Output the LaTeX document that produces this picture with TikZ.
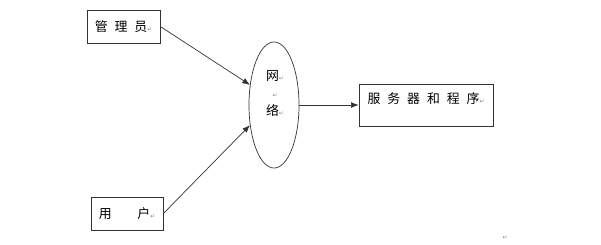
\documentclass[tikz,border=0pt]{standalone}
\usepackage{fontspec}
\newfontfamily\cjk[WordSpace=2.4]{Noto Sans CJK SC}
\newfontfamily\symfont{DejaVu Sans}
\newcommand{\retmark}{{\symfont\fontsize{5pt}{5pt}\selectfont\color{gray}\char"21B5}}
\tikzset{
  box/.style={draw=black!80, line width=0.6pt, inner sep=0pt, font=\cjk\fontsize{11pt}{12pt}\selectfont},
  netshape/.style={draw=black!80, line width=0.6pt, ellipse, minimum width=42.7pt, minimum height=107.6pt, inner sep=0pt},
}
\usetikzlibrary{shapes.geometric,arrows.meta}
\begin{document}
\begin{tikzpicture}[>={Latex[length=6.5pt,width=5pt]}, x=0.03cm, y=-0.03cm]
\useasboundingbox (0,0) rectangle (601,244);
\node[box, minimum width=62.3pt, minimum height=28.2pt] (admin) at (123.5,26.5) {管 理 员\retmark};
\node[box, minimum width=61.5pt, minimum height=28.2pt] (user) at (127,213.5) {用\hspace{22pt}户\retmark};
\node[box, minimum width=114.4pt, minimum height=35.9pt, text height=9pt, text depth=12pt] (server) at (426,105) {服 务 器 和 程 序\retmark};
\node[netshape] (net) at (274,105) {};
\node[align=center, inner sep=0pt, font=\cjk\fontsize{11pt}{15pt}\selectfont] (nettext) at (275,93) {网\retmark\\ \retmark\\ 络\retmark};
\node[inner sep=0pt] (endmark) at (505,238) {\retmark};
\draw[->, black!80, line width=0.6pt] (admin.east)--(net.140);
\draw[->, black!80, line width=0.6pt] (user.east)--(net.220);
\draw[->, black!80, line width=0.6pt] (net.east)--(server.west);
\end{tikzpicture}
\end{document}
